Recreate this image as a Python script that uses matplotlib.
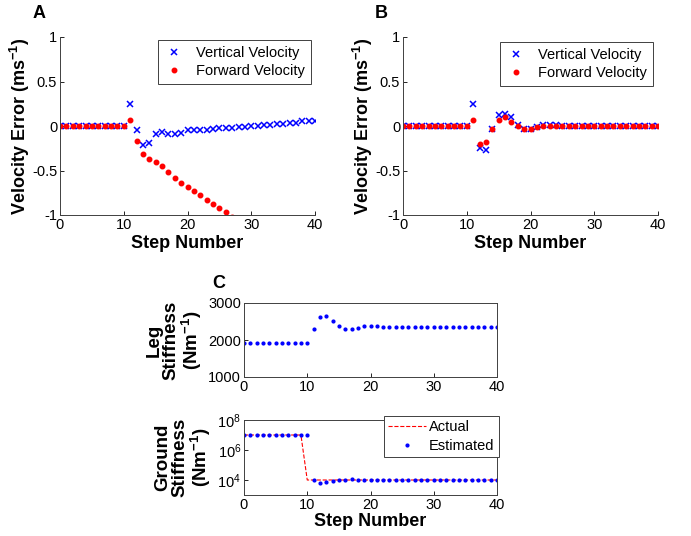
import numpy as np
import matplotlib
matplotlib.use('Agg')
import matplotlib.pyplot as plt

plt.rcParams['font.family'] = ['Liberation Sans', 'DejaVu Sans']
plt.rcParams['mathtext.fontset'] = 'custom'
plt.rcParams['mathtext.rm'] = 'Liberation Sans'
plt.rcParams['mathtext.bf'] = 'Liberation Sans:bold'
plt.rcParams['axes.unicode_minus'] = False

# step numbers
steps = list(range(0, 41))

# panel A
vert_a = [0]*11 + [0.245, -0.05, -0.21, -0.19, -0.09, -0.07, -0.09, -0.09, -0.075, -0.05,
                   -0.04, -0.04, -0.04, -0.03, -0.02, -0.02, -0.02, -0.01, -0.01, 0.005,
                   0.005, 0.01, 0.015, 0.025, 0.025, 0.03, 0.03, 0.055, 0.06, 0.055]
fwd_a = [0]*11 + [0.067, -0.17, -0.31, -0.37, -0.40, -0.45, -0.52, -0.58, -0.64, -0.68,
                  -0.73, -0.78, -0.83, -0.88, -0.92, -0.97, -1.02, -1.07, -1.12, -1.17,
                  -1.22, -1.27, -1.32, -1.37, -1.42, -1.47, -1.52, -1.57, -1.62, -1.67]

# panel B
vert_b = [0]*11 + [0.25, -0.25, -0.27, -0.03, 0.12, 0.14, 0.10, 0.01, -0.03, -0.03,
                   -0.01, 0.01, 0.01, 0.01] + [0.0]*16
fwd_b = [0]*11 + [0.07, -0.20, -0.18, -0.03, 0.07, 0.10, 0.05, 0.0, -0.03, -0.03,
                  -0.01, 0.0, 0.005, 0.0] + [0.0]*16

# panel C
leg_k = [1910]*11 + [2288, 2612, 2657, 2513, 2369, 2288, 2288, 2333, 2369, 2387,
                     2369, 2360, 2342, 2342] + [2360]*16
ground_actual = [1e7]*10 + [1e4]*31
ground_est = [1e7]*11 + [1e4, 6.2e3, 7e3, 8e3, 1.0e4, 1.05e4, 1.1e4, 1.05e4] + [1e4]*22

W, H = 691, 536
fig = plt.figure(figsize=(W/100, H/100), dpi=100)

def px_axes(l, r, t, b):
    return fig.add_axes([l/W, (H-b)/H, (r-l)/W, (b-t)/H])

def style(ax, box=False):
    for s in ['top', 'right']:
        ax.spines[s].set_visible(box)
    for s in ax.spines.values():
        s.set_color('#404040')
        s.set_linewidth(0.7)
    ax.tick_params(direction='in', length=3, width=0.6, labelsize=10.5, pad=2)

def vel_panel(ax, v, f, leg_xy):
    ax.plot(steps, v, 'x', color='blue', ms=4.5, mew=1.1, label='Vertical Velocity')
    ax.plot(steps, f, '.', color='red', ms=6.5, label='Forward Velocity')
    ax.set_xlim(0, 40)
    ax.set_ylim(-1, 1)
    ax.set_xticks([0, 10, 20, 30, 40])
    ax.set_yticks([-1, -0.5, 0, 0.5, 1])
    ax.set_yticklabels(['-1', '-0.5', '0', '0.5', '1'])
    style(ax)
    ax.set_xlabel('Step Number', fontsize=13, fontweight='bold', labelpad=2)
    ax.set_ylabel(r'Velocity Error (ms$^{\mathbf{-1}}$)', fontsize=13, fontweight='bold', labelpad=0)
    lg = ax.legend(loc='upper right', bbox_to_anchor=leg_xy, borderaxespad=0, fontsize=10.5,
                   fancybox=False, framealpha=1, edgecolor='#404040', handlelength=1.4,
                   handletextpad=0.8, borderpad=0.4, labelspacing=0.3)
    lg.get_frame().set_linewidth(0.7)

ax_a = px_axes(60, 315, 37, 215)
vel_panel(ax_a, vert_a, fwd_a, (0.984, 0.983))
ax_b = px_axes(403, 658, 37, 215)
vel_panel(ax_b, vert_b, fwd_b, (0.98, 0.972))

fig.text(33/W, 1 - 18/H, 'A', fontsize=13, fontweight='bold')
fig.text(375/W, 1 - 18/H, 'B', fontsize=13, fontweight='bold')
fig.text(212/W, 1 - 288/H, 'C', fontsize=13, fontweight='bold')

ax_c1 = px_axes(244, 497, 303, 377)
ax_c1.plot(steps, leg_k, '.', color='blue', ms=4)
ax_c1.set_xlim(0, 40)
ax_c1.set_ylim(1000, 3000)
ax_c1.set_xticks([0, 10, 20, 30, 40])
ax_c1.set_yticks([1000, 2000, 3000])
style(ax_c1, box=True)
ax_c1.set_ylabel('Leg\nStiffness\n(Nm$^{\\mathbf{-1}}$)', fontsize=13.5, fontweight='bold', labelpad=3,
                 linespacing=1.0)

ax_c2 = px_axes(244, 497, 420, 495)
ax_c2.semilogy(steps, ground_actual, '--', color='red', lw=0.8, label='Actual')
ax_c2.semilogy(steps, ground_est, '.', color='blue', ms=4, label='Estimated')
ax_c2.set_xlim(0, 40)
ax_c2.set_ylim(1e3, 1e8)
ax_c2.set_xticks([0, 10, 20, 30, 40])
ax_c2.set_yticks([1e4, 1e6, 1e8])
ax_c2.minorticks_off()
style(ax_c2, box=True)
ax_c2.set_xlabel('Step Number', fontsize=13, fontweight='bold', labelpad=1)
ax_c2.set_ylabel('Ground\nStiffness\n(Nm$^{\\mathbf{-1}}$)', fontsize=13.5, fontweight='bold', labelpad=3,
                 linespacing=1.0)
lg = ax_c2.legend(loc='upper right', bbox_to_anchor=(1.008, 1.053), borderaxespad=0, fontsize=10.5,
                  fancybox=False, framealpha=1, edgecolor='#404040', handlelength=2.6,
                  handletextpad=0.2, borderpad=0.3, labelspacing=0.3)
lg.get_frame().set_linewidth(0.7)

fig.savefig('out.png', dpi=100)
